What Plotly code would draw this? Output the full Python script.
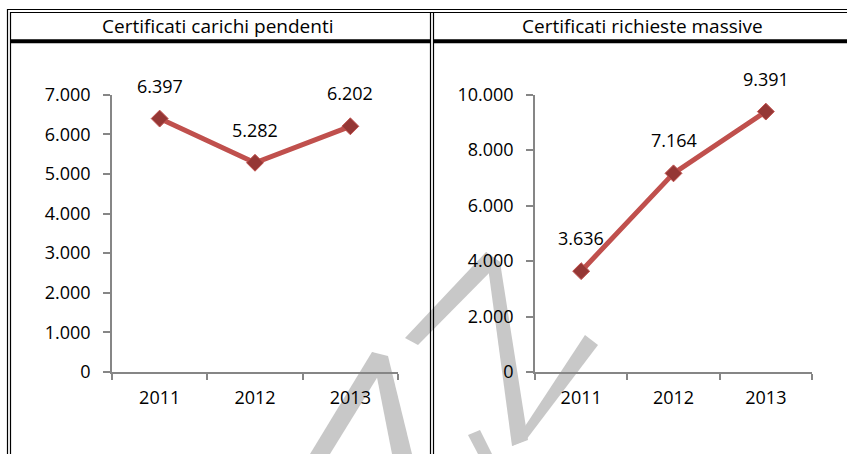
import plotly.graph_objects as go

# ---- data ----
years = ["2011", "2012", "2013"]
carichi_pendenti = [6397, 5282, 6202]
richieste_massive = [3636, 7164, 9391]
panel_titles = ["Certificati carichi pendenti", "Certificati richieste massive"]

W, H = 847, 454
FONT = "Open Sans"
LINE_C = "#C0504D"
MARK_C = "#953735"
AXIS_C = "#868686"


def px(x):
    return x / W


def py(y):
    return 1 - y / H


fig = go.Figure()

series = [(carichi_pendenti, "x", "y"), (richieste_massive, "x2", "y2")]
for vals, xa, ya in series:
    fig.add_trace(go.Scatter(
        x=years, y=vals, xaxis=xa, yaxis=ya, mode="lines+markers",
        line=dict(color=LINE_C, width=5),
        marker=dict(symbol="diamond", size=13, color=MARK_C,
                    line=dict(color=LINE_C, width=1)),
        cliponaxis=False, showlegend=False, hoverinfo="skip"))
    for i, v in enumerate(vals):
        fig.add_annotation(x=i, y=v, xref=xa, yref=ya,
                           text=f"{v:,}".replace(",", "."),
                           showarrow=False, yshift=33, yanchor="middle",
                           font=dict(family=FONT, size=18, color="black"))

axis_common = dict(showline=True, linecolor=AXIS_C, linewidth=1.5,
                   showgrid=False, zeroline=False, ticks="outside",
                   tickcolor=AXIS_C, tickwidth=1.5,
                   tickfont=dict(family=FONT, size=18, color="black"))

y_dom = [py(372), py(94.7)]
fig.update_layout(
    width=W, height=H, margin=dict(l=0, r=0, t=0, b=0, autoexpand=False),
    paper_bgcolor="white", plot_bgcolor="rgba(0,0,0,0)",
    separators=",.",
    xaxis=dict(domain=[px(112), px(398)], type="category", range=[-0.5, 2.5],
               tickson="boundaries", ticklen=6, ticklabelstandoff=9,
               anchor="y", **axis_common),
    yaxis=dict(domain=y_dom, range=[0, 7000], dtick=1000, tickformat=",.0f",
               ticklen=7, ticklabelstandoff=9, anchor="x", **axis_common),
    xaxis2=dict(domain=[px(535), px(812)], type="category", range=[-0.5, 2.5],
                tickson="boundaries", ticklen=6, ticklabelstandoff=9,
                anchor="y2", **axis_common),
    yaxis2=dict(domain=y_dom, range=[0, 10000], dtick=2000, tickformat=",.0f",
                ticklen=7, ticklabelstandoff=9, anchor="x2", **axis_common),
)

# ---- watermark (decorative grey strokes) ----
wm = [
    [(310, 454), (330, 454), (388, 360), (372, 352)],
    [(372, 352), (388, 356), (412, 454), (392, 454)],
    [(405, 338), (418, 345), (500, 262), (486, 252)],
    [(486, 252), (500, 262), (528, 440), (512, 446)],
    [(512, 446), (526, 440), (598, 345), (585, 335)],
    [(468, 435), (480, 430), (492, 454), (478, 454)],
]
for poly in wm:
    path = "M " + " L ".join(f"{px(x):.5f},{py(y):.5f}" for x, y in poly) + " Z"
    fig.add_shape(type="path", path=path, xref="paper", yref="paper",
                  fillcolor="#C8C8C8", line=dict(width=0), layer="below")

# ---- table borders ----
def hline(x0, x1, y, w=1.2):
    fig.add_shape(type="line", xref="paper", yref="paper",
                  x0=px(x0), x1=px(x1), y0=py(y), y1=py(y),
                  line=dict(color="black", width=w))


def vline(x, y0, y1, w=1.2):
    fig.add_shape(type="line", xref="paper", yref="paper",
                  x0=px(x), x1=px(x), y0=py(y0), y1=py(y1),
                  line=dict(color="black", width=w))


hline(7, 847, 9.5)
hline(10, 847, 12.5)
vline(7.5, 9, 454)
vline(10.5, 12, 454)
vline(430.5, 12, 454)
vline(433.5, 12, 454)
hline(10.5, 430.5, 41.3, w=4)
hline(433.5, 847, 41.3, w=4)

# ---- panel titles ----
for t, cx in zip(panel_titles, [218, 642]):
    fig.add_annotation(x=px(cx), y=py(26), xref="paper", yref="paper",
                       text=t, showarrow=False, xanchor="center", yanchor="middle",
                       font=dict(family=FONT, size=19, color="black"))

fig.write_html("out.html", config={"displayModeBar": False},
               post_script="document.body.style.margin='0px';")
